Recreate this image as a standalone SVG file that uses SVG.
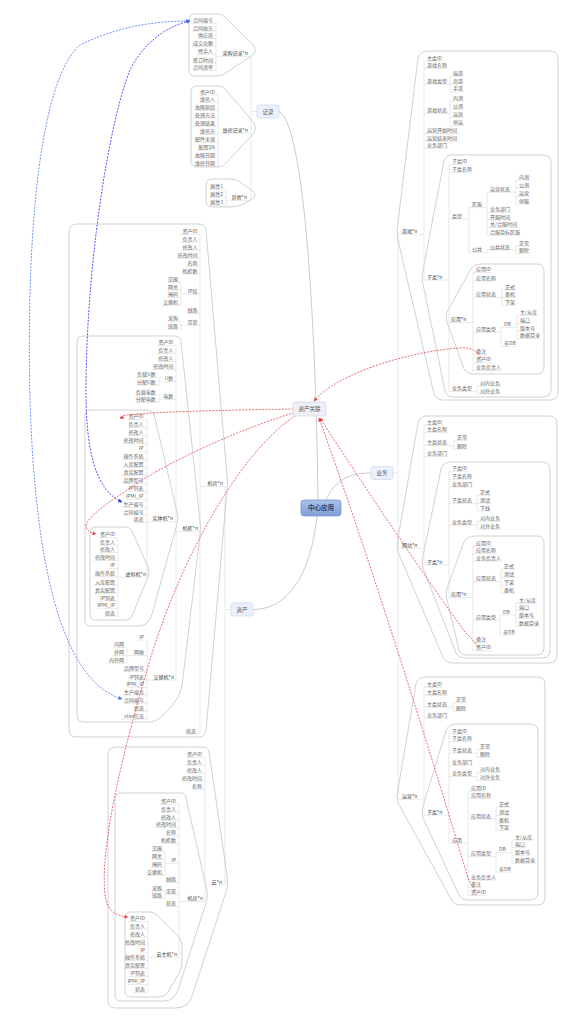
<svg xmlns="http://www.w3.org/2000/svg" width="572" height="1024" viewBox="0 0 572 1024">
<style>
text{font-family:"Noto Sans CJK SC","Noto Sans",sans-serif;font-size:5px;fill:#666}
.e{text-anchor:end}
.lab{fill:#444}
.u{stroke:#dadada;stroke-width:0.6;fill:none}
.bd{stroke:#bdbdbd;stroke-width:0.7;fill:none}
.c{stroke:#c4c4c4;stroke-width:0.9;fill:none}
.rd{stroke:#e0474c;stroke-width:0.8;stroke-dasharray:2 1.3;fill:none}
.bl{stroke:#1f2bff;stroke-width:0.8;stroke-dasharray:2 1.3;fill:none}
.bl2{stroke:#4a72f0;stroke-width:0.8;stroke-dasharray:2 1.3;fill:none}
.nd{fill:#eaf1fc;stroke:#c9d8ef;stroke-width:0.7}
.nt{font-size:5.5px;fill:#555;text-anchor:middle}
</style>
<defs>
<marker id="ar" viewBox="0 0 10 10" refX="9" refY="5" markerWidth="5" markerHeight="5" orient="auto-start-reverse"><path d="M0,0 L10,5 L0,10 Z" fill="#e0474c"/></marker>
<marker id="ab" viewBox="0 0 10 10" refX="9" refY="5" markerWidth="5" markerHeight="5" orient="auto-start-reverse"><path d="M0,0 L10,5 L0,10 Z" fill="#1f2bff"/></marker>
<marker id="ab2" viewBox="0 0 10 10" refX="9" refY="5" markerWidth="5" markerHeight="5" orient="auto-start-reverse"><path d="M0,0 L10,5 L0,10 Z" fill="#4a72f0"/></marker>
<linearGradient id="cg" x1="0" y1="0" x2="0" y2="1"><stop offset="0" stop-color="#a9c1ea"/><stop offset="1" stop-color="#7f9fd8"/></linearGradient>
</defs>
<rect width="572" height="1024" fill="#fff"/>

<g id="connectors">
<path class="c" d="M318,500 C316,330 305,125 279,111.5"/>
<path class="c" d="M326,500 C336,478 352,473 371,473"/>
<path class="c" d="M317,516 C310,580 285,609.5 253,609.5"/>
<path class="u" d="M257,111.5H251 M251,56.3V200.3 M393,473H398 M398,234.3V799.3 M231,609.5H225 M225,486.6V885"/>
</g>

<g id="records">
<path class="bd" d="M195,14 H218 Q222,14 225,17 L254,46 Q257,50 254,54 L226,73 Q222,76 217,76 H195 Q189,76 189,70 V20 Q189,14 195,14 Z"/>
<path class="bd" d="M197,86 H219 Q223,86 226,90 L254,123 Q257,128 254,133 L226,163 Q223,167 218,167 H197 Q191,167 191,161 V92 Q191,86 197,86 Z"/>
<path class="bd" d="M212,179 H230 Q236,179 240,182 L253,191 Q257,195 253,199 L241,205 Q236,207 230,207 H212 Q206,207 206,201 V185 Q206,179 212,179 Z"/>
<path class="u" d="M216,56.3H251 M192,23.3H216 M192,31H216 M197,38.6H216 M192,46.6H216 M197,54.6H216 M192,63H216 M192,70.6H216 M216,23.3V70.6
M218,133.3H251 M199,95H218 M199,102.6H218 M194,110.6H218 M194,118.6H218 M194,126.6H218 M199,134.6H218 M194,142.6H218 M197,150H218 M194,158H218 M194,166H218 M218,95V166
M226,200.3H251 M209,189.3H226 M209,197.3H226 M209,205.3H226 M226,189.3V205.3"/>
<text class="e lab" x="248" y="54.8">采购记录*n</text>
<text class="e" x="213" y="21.8">合同编号</text><text class="e" x="213" y="29.5">合同抬头</text><text class="e" x="213" y="37.1">供应商</text><text class="e" x="213" y="45.1">成交总额</text><text class="e" x="213" y="53.1">经手人</text><text class="e" x="213" y="61.5">签订时间</text><text class="e" x="213" y="69.1">合同清单</text>
<text class="e lab" x="248" y="131.8">维修记录*n</text>
<text class="e" x="215" y="93.5">资产ID</text><text class="e" x="215" y="101.1">维修人</text><text class="e" x="215" y="109.1">故障原因</text><text class="e" x="215" y="117.1">处理方法</text><text class="e" x="215" y="125.1">处理结果</text><text class="e" x="215" y="133.1">维修方</text><text class="e" x="215" y="141.1">配件来源</text><text class="e" x="215" y="148.5">配置SN</text><text class="e" x="215" y="156.5">故障日期</text><text class="e" x="215" y="164.5">维修日期</text>
<text class="e lab" x="247" y="198.8">其他*n</text>
<text class="e" x="223" y="187.8">属性1</text><text class="e" x="223" y="195.8">属性2</text><text class="e" x="223" y="203.8">属性3</text>
</g>

<g id="game">
<path class="bd" d="M428,51 H550 Q558,51 558,59 V392 Q558,400 550,400 H443 Q436,400 434,394 L398,240 Q396,231 398,222 L418,58 Q420,51 428,51 Z"/>
<path class="bd" d="M452,155 H543 Q551,155 551,163 V389 Q551,397 543,397 H453 Q447,397 445,391 L423,284 Q421,277 423,270 L444,161 Q446,155 452,155 Z"/>
<path class="bd" d="M482,264 H537 Q544,264 544,271 V367 Q544,374 537,374 H472 Q467,374 464,369 L447,322 Q445,317 447,312 L471,269 Q474,264 482,264 Z"/>
<path class="u" d="M398,234.3H424 M424,61H443 M424,68.3H448 M424,84H450 M424,113.6H450 M424,133.6H458 M424,141H458 M424,148.3H448 M424,280H449 M424,61V280
M450,76H464 M450,84H464 M450,91.6H464 M450,76V91.6 M450,101H464 M450,109.3H464 M450,117.3H464 M450,125.6H464 M450,101V125.6
M449,164.3H468 M449,172.3H473 M449,219H469 M449,322.6H473 M449,391.6H477 M449,164.3V391.6
M469,207.6H487 M469,252.6H487 M469,207.6V252.6
M487,192.3H516 M487,212.3H511 M487,220H511 M487,227.6H518 M487,235.3H521 M487,192.3V235.3
M516,180H530 M516,188H530 M516,196H530 M516,204H530 M516,180V204
M487,250H516 M487,250V252.6 M516,246H530 M516,253.3H530 M516,246V253.3
M473,272.6H492 M473,281H497 M473,297.3H502 M473,332.3H501 M473,354.6H487 M473,362.6H492 M473,370.6H502 M473,272.6V370.6
M502,290H516 M502,297.6H516 M502,305.3H516 M502,290V305.3
M501,327.3H517 M501,346.6H517 M501,327.3V346.6
M517,315.6H538 M517,323.3H531 M517,331H536 M517,338.6H541 M517,315.6V338.6
M477,386H501 M477,394H501 M477,386V394"/>
<text class="lab" x="402" y="232.8">游戏*n</text>
<text x="427" y="59.5">主类ID</text><text x="427" y="66.8">游戏名称</text><text x="427" y="82.5">游戏类型</text><text x="427" y="112.1">游戏状态</text><text x="427" y="132.1">运营开始时间</text><text x="427" y="139.5">运营结束时间</text><text x="427" y="146.8">业务部门</text><text class="lab" x="427" y="278.5">子类*n</text>
<text x="453" y="74.5">端游</text><text x="453" y="82.5">页游</text><text x="453" y="90.1">手游</text><text x="453" y="99.5">内测</text><text x="453" y="107.8">公测</text><text x="453" y="115.8">运营</text><text x="453" y="124.1">停运</text>
<text x="452" y="162.8">子类ID</text><text x="452" y="170.8">子类名称</text><text x="452" y="217.5">类型</text><text class="lab" x="451" y="321.1">应用*n</text><text x="452" y="390.1">业务类型</text>
<text x="472" y="206.1">区服</text><text x="472" y="251.1">公共</text>
<text x="490" y="190.8">运营状态</text><text x="490" y="210.8">业务部门</text><text x="490" y="218.5">开服时间</text><text x="490" y="226.1">关/合服时间</text><text x="490" y="233.8">合服目标区服</text><text x="490" y="248.5">公共状态</text>
<text x="519" y="178.5">内测</text><text x="519" y="186.5">公测</text><text x="519" y="194.5">运营</text><text x="519" y="202.5">停服</text><text x="519" y="244.5">正常</text><text x="519" y="251.8">删除</text>
<text x="476" y="271.1">应用ID</text><text x="476" y="279.5">应用名称</text><text x="476" y="295.8">应用状态</text><text x="476" y="330.8">应用类型</text><text x="476" y="353.1">备注</text><text x="476" y="361.1">资产ID</text><text x="476" y="369.1">业务负责人</text>
<text x="505" y="288.5">正式</text><text x="505" y="296.1">备机</text><text x="505" y="303.8">下架</text>
<text x="504" y="325.8">DB</text><text x="504" y="345.1">非DB</text>
<text x="520" y="314.1">主/从库</text><text x="520" y="321.8">端口</text><text x="520" y="329.5">版本号</text><text x="520" y="337.1">数据目录</text>
<text x="480" y="384.5">对内业务</text><text x="480" y="392.5">对外业务</text>
</g>

<g id="website">
<path class="bd" d="M426,416 H549 Q557,416 557,424 V655 Q557,663 549,663 H452 Q446,663 443,657 L398,552 Q396,545 398,538 L418,423 Q420,416 426,416 Z"/>
<path class="bd" d="M451,462 H542 Q550,462 550,470 V650 Q550,658 542,658 H464 Q459,658 456,653 L423,568 Q421,562 423,556 L441,469 Q443,462 451,462 Z"/>
<path class="bd" d="M476,536 H537 Q544,536 544,543 V648 Q544,655 537,655 H466 Q461,655 459,650 L447,600 Q445,594 447,588 L464,542 Q467,536 476,536 Z"/>
<path class="u" d="M398,548.3H424 M424,425H443 M424,432.3H448 M424,445.6H454 M424,456.6H448 M424,565H449 M424,425V565
M454,440.6H468 M454,449H468 M454,440.6V449
M449,471.6H468 M449,479.3H473 M449,487H473 M449,503.3H477 M449,525H477 M449,597.6H473 M449,471.6V597.6
M477,495.3H491 M477,503.3H491 M477,511H491 M477,495.3V511 M477,521.3H501 M477,529.3H501 M477,521.3V529.3
M473,546H492 M473,553.3H497 M473,561H502 M473,581.3H501 M473,620H500 M473,642.6H487 M473,650.6H492 M473,546V650.6
M501,569H515 M501,577.3H515 M501,585.3H515 M501,593.3H515 M501,569V593.3
M500,615H516 M500,635H516 M500,615V635
M516,603.3H537 M516,610.6H530 M516,618.3H535 M516,626H540 M516,603.3V626"/>
<text class="lab" x="402" y="546.8">网站*n</text>
<text x="427" y="423.5">主类ID</text><text x="427" y="430.8">主类名称</text><text x="427" y="444.1">主类状态</text><text x="427" y="455.1">业务部门</text><text class="lab" x="427" y="563.5">子类*n</text>
<text x="457" y="439.1">正常</text><text x="457" y="447.5">删除</text>
<text x="452" y="470.1">子类ID</text><text x="452" y="477.8">子类名称</text><text x="452" y="485.5">业务部门</text><text x="452" y="501.8">子类状态</text><text x="452" y="523.5">业务类型</text><text class="lab" x="451" y="596.1">应用*n</text>
<text x="480" y="493.8">正式</text><text x="480" y="501.8">测试</text><text x="480" y="509.5">下线</text><text x="480" y="519.8">对内业务</text><text x="480" y="527.8">对外业务</text>
<text x="476" y="544.5">应用ID</text><text x="476" y="551.8">应用名称</text><text x="476" y="559.5">业务负责人</text><text x="476" y="579.8">应用状态</text><text x="476" y="618.5">应用类型</text><text x="476" y="641.1">备注</text><text x="476" y="649.1">资产ID</text>
<text x="504" y="567.5">正式</text><text x="504" y="575.8">测试</text><text x="504" y="583.8">下架</text><text x="504" y="591.8">备机</text>
<text x="503" y="613.5">DB</text><text x="503" y="633.5">非DB</text>
<text x="519" y="601.8">主/从库</text><text x="519" y="609.1">端口</text><text x="519" y="616.8">版本号</text><text x="519" y="624.5">数据目录</text>
</g>

<g id="ops">
<path class="bd" d="M426,677 H537 Q545,677 545,685 V897 Q545,905 537,905 H460 Q454,905 451,899 L398,803 Q396,796 398,789 L416,684 Q418,677 426,677 Z"/>
<path class="bd" d="M456,724 H530 Q538,724 538,732 V892 Q538,900 530,900 H467 Q462,900 459,895 L423,818 Q421,812 423,806 L446,731 Q448,724 456,724 Z"/>
<path class="u" d="M398,799.3H424 M424,687.3H443 M424,695.3H448 M424,707H453 M424,718.3H448 M424,815H449 M424,687.3V815
M453,702.6H467 M453,711H467 M453,702.6V711
M449,734H468 M449,741.6H473 M449,753.3H477 M449,765.3H473 M449,776.6H477 M449,843.3H468 M449,734V843.3
M477,749.3H491 M477,757.3H491 M477,749.3V757.3 M477,772.6H501 M477,780.6H501 M477,772.6V780.6
M468,791H487 M468,798.6H492 M468,819H496 M468,856.6H496 M468,880H497 M468,887.6H482 M468,895.3H487 M468,791V895.3
M496,807.3H510 M496,815.3H510 M496,823H510 M496,830.6H510 M496,807.3V830.6
M496,852.6H512 M496,872H512 M496,852.6V872
M512,840H533 M512,847.6H526 M512,855.3H531 M512,863.3H536 M512,840V863.3"/>
<text class="lab" x="402" y="797.8">运营*n</text>
<text x="427" y="685.8">主类ID</text><text x="427" y="693.8">主类名称</text><text x="427" y="705.5">主类状态</text><text x="427" y="716.8">业务部门</text><text class="lab" x="427" y="813.5">子类*n</text>
<text x="456" y="701.1">正常</text><text x="456" y="709.5">删除</text>
<text x="452" y="732.5">子类ID</text><text x="452" y="740.1">子类名称</text><text x="452" y="751.8">子类状态</text><text x="452" y="763.8">业务部门</text><text x="452" y="775.1">业务类型</text><text x="452" y="841.8">应用</text>
<text x="480" y="747.8">正常</text><text x="480" y="755.8">删除</text><text x="480" y="771.1">对内业务</text><text x="480" y="779.1">对外业务</text>
<text x="471" y="789.5">应用ID</text><text x="471" y="797.1">应用名称</text><text x="471" y="817.5">应用状态</text><text x="471" y="855.1">应用类型</text><text x="471" y="878.5">业务负责人</text><text x="471" y="886.1">备注</text><text x="471" y="893.8">资产ID</text>
<text x="499" y="805.8">正式</text><text x="499" y="813.8">测试</text><text x="499" y="821.5">备机</text><text x="499" y="829.1">下架</text><text x="499" y="851.1">DB</text><text x="499" y="870.5">非DB</text>
<text x="515" y="838.5">主/从库</text><text x="515" y="846.1">端口</text><text x="515" y="853.8">版本号</text><text x="515" y="861.8">数据目录</text>
</g>

<g id="room">
<path class="bd" d="M77,224 H199 Q205,224 206,230 L227,476 Q228,483 227,490 L206,731 Q205,737 199,737 H77 Q69,737 69,729 V232 Q69,224 77,224 Z"/>
<path class="bd" d="M84,336 H175 Q180,336 181,341 L200,521 Q201,528 200,535 L182,686 Q180,696 172,706 L161,717 Q156,722 150,722 H84 Q77,722 77,715 V343 Q77,336 84,336 Z"/>
<path class="bd" d="M91,410 H147 Q152,410 154,414 L177,512 Q179,518 177,524 L152,614 Q149,626 138,626 H91 Q85,626 85,620 V416 Q85,410 91,410 Z"/>
<path class="bd" d="M96,527 H126 Q130,527 132,531 L148,567 Q150,572 148,577 L132,616 Q130,620 126,620 H96 Q90,620 90,614 V533 Q90,527 96,527 Z"/>
<path class="u" d="M200,486.6H225 M181.5,234.3H200 M181.5,242.3H200 M181.5,250H200 M176.5,258H200 M186.5,266H200 M181.5,274H200 M181,294H200 M186.5,313.6H200 M181,325.6H200 M176,531.6H200 M185,734H200 M200,234.3V734
M167,282.3H181 M167,290H181 M167,297.6H181 M162,305.3H181 M181,282.3V305.3 M167,321.6H181 M167,329.6H181 M181,321.6V329.6
M157,345.6H176 M157,353.6H176 M157,361.6H176 M152,369.6H176 M159,381.6H176 M159,399.3H176 M147,521.6H176 M147,680H176 M176,345.6V680
M137,377.6H159 M137,385H159 M159,377.6V385 M135,395H159 M135,402.6H159 M159,395V402.6
M127.5,419.6H147 M127.5,427.6H147 M127.5,435.6H147 M122.5,443.6H147 M138,451.6H147 M122.5,459.6H147 M122.5,467.6H147 M122.5,475.3H147 M122.5,483.3H147 M127.5,491.6H147 M125.5,499.3H147 M122.5,507.3H147 M122.5,515H147 M132.5,522.6H147 M118,577.3H147 M147,419.6V577.3
M99,537.6H118 M99,545H118 M99,552.6H118 M94,560.6H118 M109.5,568.6H118 M94,576.6H118 M94,585H118 M94,593H118 M99,601H118 M97,608.3H118 M104,616.3H118 M118,537.6V616.3
M138.5,640H147 M127,655.6H147 M123,671.6H147 M128,680H147 M126,687.6H147 M123,695H147 M123,703.3H147 M133,711.3H147 M122,719.3H147 M147,640V719.3
M113,647.6H127 M113,655.6H127 M108,663.3H127 M127,647.6V663.3"/>
<text class="e lab" x="223" y="485.1">机房*n</text>
<text class="e" x="197.5" y="232.8">资产ID</text><text class="e" x="197.5" y="240.8">负责人</text><text class="e" x="197.5" y="248.5">修改人</text><text class="e" x="197.5" y="256.5">修改时间</text><text class="e" x="197.5" y="264.5">名称</text><text class="e" x="197.5" y="272.5">机柜数</text><text class="e" x="197.5" y="292.5">IP段</text><text class="e" x="197.5" y="312.1">线路</text><text class="e" x="197.5" y="324.1">带宽</text>
<text class="e lab" x="198" y="530.1">机柜*n</text><text class="e" x="196" y="732.5">状态</text>
<text class="e" x="178" y="280.8">范围</text><text class="e" x="178" y="288.5">网关</text><text class="e" x="178" y="296.1">掩码</text><text class="e" x="178" y="303.8">交换机</text><text class="e" x="178" y="320.1">采购</text><text class="e" x="178" y="328.1">链路</text>
<text class="e" x="173.3" y="344.1">资产ID</text><text class="e" x="173.3" y="352.1">负责人</text><text class="e" x="173.3" y="360.1">修改人</text><text class="e" x="173.3" y="368.1">修改时间</text><text class="e" x="173.3" y="380.1">U数</text><text class="e" x="173.3" y="397.8">电数</text>
<text class="e lab" x="173" y="520.1">实体机*n</text><text class="e lab" x="174" y="678.5">交换机*n</text>
<text class="e" x="155.7" y="376.1">负载U数</text><text class="e" x="155.7" y="383.5">分配U数</text><text class="e" x="155.7" y="393.5">负载电数</text><text class="e" x="155.7" y="401.1">分配电数</text>
<text class="e" x="143.5" y="418.1">资产ID</text><text class="e" x="143.5" y="426.1">负责人</text><text class="e" x="143.5" y="434.1">修改人</text><text class="e" x="143.5" y="442.1">修改时间</text><text class="e" x="143.5" y="450.1">IP</text><text class="e" x="143.5" y="458.1">操作系统</text><text class="e" x="143.5" y="466.1">入库配置</text><text class="e" x="143.5" y="473.8">真实配置</text><text class="e" x="143.5" y="481.8">品牌型号</text><text class="e" x="143.5" y="490.1">IP列表</text><text class="e" x="143.5" y="497.8">IPMI_IP</text><text class="e" x="143.5" y="505.8">生产编号</text><text class="e" x="143.5" y="513.5">合同编号</text><text class="e" x="143.5" y="521.1">状态</text>
<text class="e lab" x="146" y="575.8">虚拟机*n</text>
<text class="e" x="115" y="536.1">资产ID</text><text class="e" x="115" y="543.5">负责人</text><text class="e" x="115" y="551.1">修改人</text><text class="e" x="115" y="559.1">修改时间</text><text class="e" x="115" y="567.1">IP</text><text class="e" x="115" y="575.1">操作系统</text><text class="e" x="115" y="583.5">入库配置</text><text class="e" x="115" y="591.5">真实配置</text><text class="e" x="115" y="599.5">IP列表</text><text class="e" x="115" y="606.8">IPMI_IP</text><text class="e" x="115" y="614.8">状态</text>
<text class="e" x="144" y="638.5">IP</text><text class="e" x="144" y="654.1">网络</text><text class="e" x="144" y="670.1">品牌型号</text><text class="e" x="144" y="678.5">IP列表</text><text class="e" x="144" y="686.1">IPMI_IP</text><text class="e" x="144" y="693.5">生产编号</text><text class="e" x="144" y="701.8">合同编号</text><text class="e" x="144" y="709.8">状态</text><text class="e" x="144" y="717.8">vlan信息</text>
<text class="e" x="124" y="646.1">内网</text><text class="e" x="124" y="654.1">外网</text><text class="e" x="124" y="661.8">内外网</text>
</g>

<g id="cloud">
<path class="bd" d="M116,747 H203 Q208,747 209,752 L227,875 Q228,882 227,889 L192,996 Q188,1008 176,1008 H116 Q108,1008 108,1000 V755 Q108,747 116,747 Z"/>
<path class="bd" d="M121,793 H181 Q185,793 186,798 L207,891 Q208,897 206,903 L178,990 Q174,1001 164,1001 H121 Q115,1001 115,995 V799 Q115,793 121,793 Z"/>
<path class="bd" d="M131,912 H150 Q154,912 157,915 L180,938 Q182,943 182,948 V962 Q182,968 179,973 L168,992 Q165,997 159,997 H131 Q125,997 125,991 V918 Q125,912 131,912 Z"/>
<path class="u" d="M205,885H225 M186,757.3H205 M186,765H205 M186,773H205 M181,781H205 M191,789H205 M179,901.6H205 M205,757.3V901.6
M160,804.3H179 M160,812H179 M160,820H179 M155,827.6H179 M165,835.6H179 M160,843.3H179 M165,863.3H179 M165,882.6H179 M165,894.6H179 M165,906.6H179 M148,957.3H179 M179,804.3V957.3
M151,851.6H165 M151,859.3H165 M151,867.3H165 M146,875H165 M165,851.6V875 M151,891H165 M151,898.6H165 M165,891V898.6
M129,921.6H148 M129,929.3H148 M129,937.3H148 M124,945H148 M139.5,953H148 M124,960.6H148 M124,968.6H148 M129,976.6H148 M127,984.6H148 M134,992.6H148 M148,921.6V992.6"/>
<text class="e lab" x="222" y="883.5">云*n</text>
<text class="e" x="202" y="755.8">资产ID</text><text class="e" x="202" y="763.5">负责人</text><text class="e" x="202" y="771.5">修改人</text><text class="e" x="202" y="779.5">修改时间</text><text class="e" x="202" y="787.5">名称</text>
<text class="e lab" x="203" y="900.1">机房*n</text>
<text class="e" x="176" y="802.8">资产ID</text><text class="e" x="176" y="810.5">负责人</text><text class="e" x="176" y="818.5">修改人</text><text class="e" x="176" y="826.1">修改时间</text><text class="e" x="176" y="834.1">名称</text><text class="e" x="176" y="841.8">机柜数</text><text class="e" x="176" y="861.8">IP</text><text class="e" x="176" y="881.1">线路</text><text class="e" x="176" y="893.1">带宽</text><text class="e" x="176" y="905.1">状态</text>
<text class="e" x="162" y="850.1">范围</text><text class="e" x="162" y="857.8">网关</text><text class="e" x="162" y="865.8">掩码</text><text class="e" x="162" y="873.5">交换机</text><text class="e" x="162" y="889.5">采购</text><text class="e" x="162" y="897.1">链路</text>
<text class="e lab" x="177" y="955.8">云主机*n</text>
<text class="e" x="145" y="920.1">资产ID</text><text class="e" x="145" y="927.8">负责人</text><text class="e" x="145" y="935.8">修改人</text><text class="e" x="145" y="943.5">修改时间</text><text class="e" x="145" y="951.5">IP</text><text class="e" x="145" y="959.1">操作系统</text><text class="e" x="145" y="967.1">真实配置</text><text class="e" x="145" y="975.1">IP列表</text><text class="e" x="145" y="983.1">IPMI_IP</text><text class="e" x="145" y="991.1">状态</text>
</g>

<g id="relations">
<path class="rd" marker-end="url(#ar)" d="M481,358 C476,349 468,347 460,348 C420,350 340,370 314,401"/>
<path class="rd" marker-end="url(#ar)" d="M297,409 C220,410 100,413 124,418"/>
<path class="rd" marker-end="url(#ar)" d="M297,412 C250,425 170,460 130,488 C100,508 70,528 96,534"/>
<path class="rd" marker-end="url(#ar)" d="M298,414 C240,450 180,560 150,660 C120,760 100,850 105,895 C107,910 115,916 128,917"/>
<path class="rd" marker-end="url(#ar)" d="M478,647 C474,641 470,637 465,632 C420,570 360,480 320,418"/>
<path class="rd" marker-end="url(#ar)" d="M476,891 C472,886 470,883 468,878 C430,750 370,560 319,418"/>
<path class="bl" marker-start="url(#ab)" marker-end="url(#ab)" d="M122,502 C95,490 85,450 86,380 C88,250 110,120 130,70 C145,40 170,25 190,21"/>
<path class="bl2" marker-start="url(#ab2)" marker-end="url(#ab2)" d="M122,699 C60,680 35,560 30,400 C26,230 40,80 80,45 C120,25 160,21 190,21"/>
</g>

<g id="node-record"><rect class="nd" x="257" y="105" width="22" height="13" rx="2"/><text class="nt" x="268" y="113.6">记录</text></g>
<g id="node-link"><rect x="293" y="402" width="33" height="14" rx="2" fill="#eeeff7" stroke="#d2d4e4" stroke-width="0.7"/><text class="nt" x="309.5" y="410.8">资产关联</text></g>
<g id="node-business"><rect class="nd" x="371" y="466.5" width="22" height="13" rx="2"/><text class="nt" x="382" y="475">业务</text></g>
<g id="node-asset"><rect class="nd" x="231" y="603" width="22" height="13" rx="2"/><text class="nt" x="242" y="611.5">资产</text></g>
<g id="node-center"><rect x="301" y="500" width="40" height="16" rx="3" fill="url(#cg)" stroke="#7391c9" stroke-width="0.7"/><text x="321" y="510.4" style="font-size:6.5px;font-weight:bold;fill:#2f4470;text-anchor:middle">中心应用</text></g>
</svg>
